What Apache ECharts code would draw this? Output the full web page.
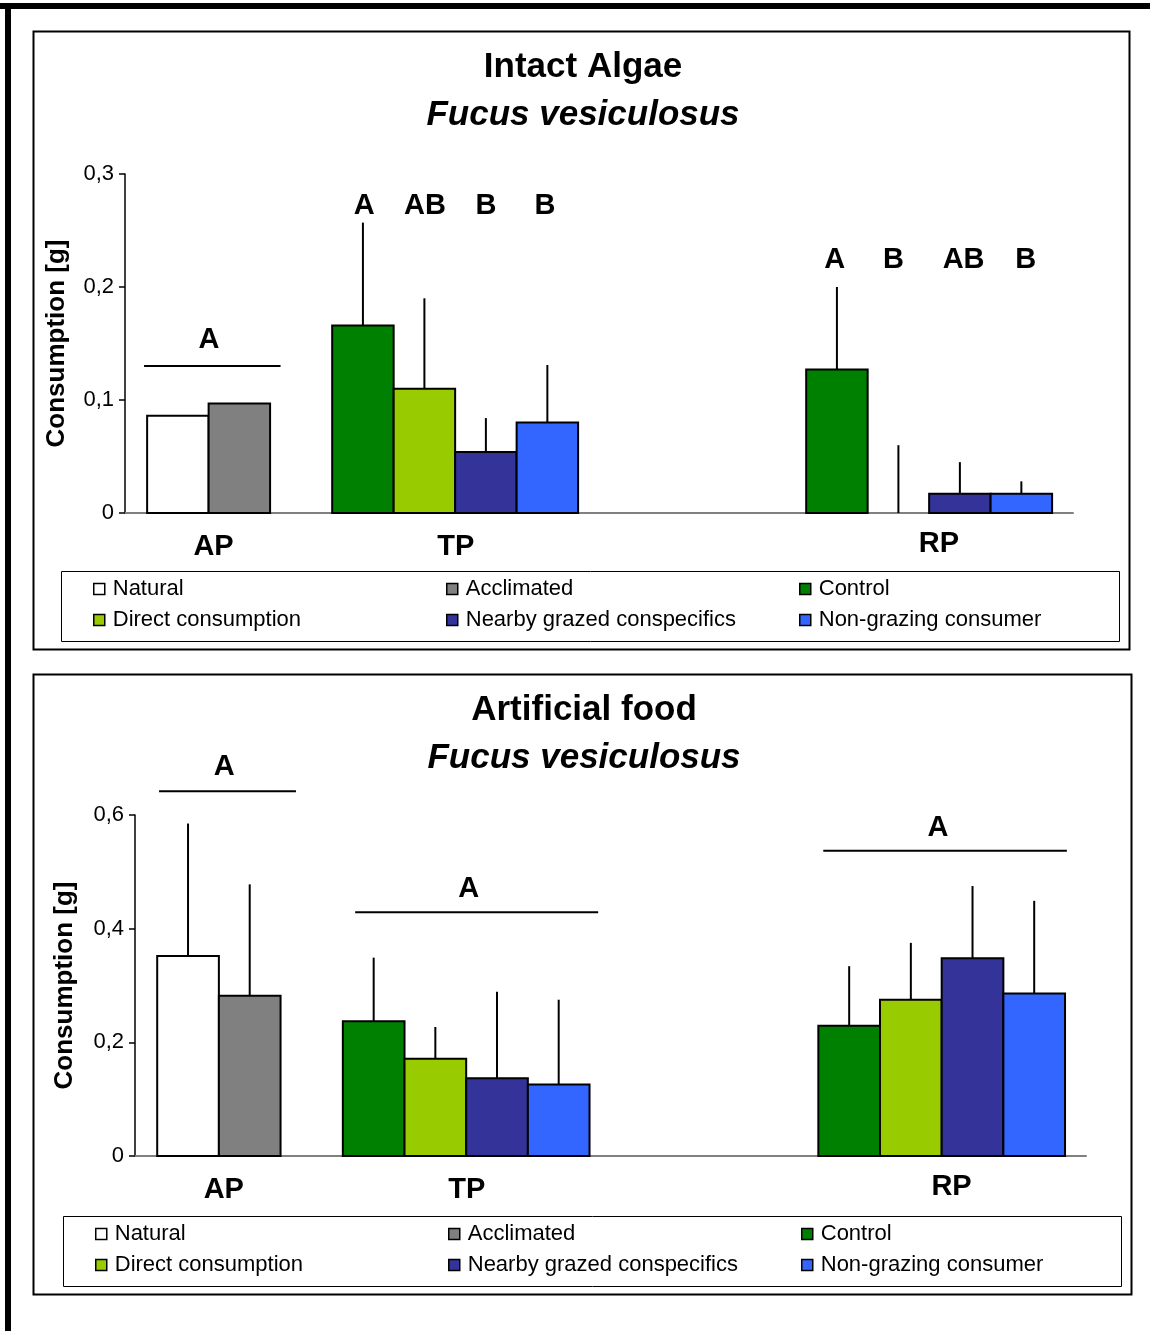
<!DOCTYPE html>
<html><head><meta charset="utf-8">
<script src="https://cdn.jsdelivr.net/npm/echarts/dist/echarts.min.js"></script>
<style>html,body{margin:0;padding:0;background:#fff}#chart{width:1150px;height:1331px}</style>
</head><body><div id="chart"></div>
<script>
// ---------------- DATA ----------------
const groups = ['AP', 'TP', 'RP'];
const treatments = ['Natural', 'Acclimated', 'Control', 'Direct consumption', 'Nearby grazed conspecifics', 'Non-grazing consumer'];

// Intact algae (means per group [AP, TP, RP]) and upper error (SD)
const intactNatural      = [0.086, null, null];
const intactAcclimated   = [0.097, null, null];
const intactControl      = [null, 0.166, 0.127];
const intactDirect       = [null, 0.110, 0.000];
const intactNearby       = [null, 0.054, 0.017];
const intactNonGrazing   = [null, 0.080, 0.017];
const intactNaturalErr    = [0, null, null];
const intactAcclimatedErr = [0, null, null];
const intactControlErr    = [null, 0.091, 0.073];
const intactDirectErr     = [null, 0.080, 0.060];
const intactNearbyErr     = [null, 0.030, 0.028];
const intactNonGrazingErr = [null, 0.051, 0.011];

// Artificial food
const artNatural      = [0.352, null, null];
const artAcclimated   = [0.282, null, null];
const artControl      = [null, 0.237, 0.229];
const artDirect       = [null, 0.171, 0.275];
const artNearby       = [null, 0.137, 0.348];
const artNonGrazing   = [null, 0.126, 0.286];
const artNaturalErr    = [0.233, null, null];
const artAcclimatedErr = [0.196, null, null];
const artControlErr    = [null, 0.112, 0.105];
const artDirectErr     = [null, 0.056, 0.100];
const artNearbyErr     = [null, 0.152, 0.127];
const artNonGrazingErr = [null, 0.149, 0.163];

// significance letters
const intactLetters = ['A', 'A', 'AB', 'B', 'B', 'A', 'B', 'AB', 'B'];
const artLetters = ['A', 'A', 'A'];

// y tick settings
const intactYMax = 0.3, intactYStep = 0.1;
const artYMax = 0.6, artYStep = 0.2;

// ---------------- LAYOUT (positions in bar-width units) ----------------
const layout = {
  groupStart: [0.36, 3.37, 11.08],
  xMax: 15.42,
  groupLabelX: [1.44, 5.38, 13.24],
  groupLabelDy: [34, 34, 31],
  slot: [0, 1, 0, 1, 2, 3],
  intactLetterPos: [[1.366, 0.153], [3.89, 0.272], [4.88, 0.272], [5.87, 0.272], [6.83, 0.272],
                    [11.545, 0.2236], [12.50, 0.2236], [13.64, 0.2236], [14.65, 0.2236]],
  intactBrackets: [[0.31, 2.53, 0.130]],
  artLetterPos: [[1.445, 0.684], [5.41, 0.469], [13.02, 0.578]],
  artBrackets: [[0.39, 2.61, 0.642], [3.57, 7.51, 0.429], [11.16, 15.11, 0.537]]
};
const colors = ['#FFFFFF', '#808080', '#008000', '#99CC00', '#333399', '#3366FF'];
const FONT = '"Liberation Sans", Arial, Helvetica, sans-serif';

// ---------------- BUILD ----------------
function renderBar(params, api) {
  const x = api.value(0), v = api.value(1), e = api.value(2);
  const p0 = api.coord([x, 0]), p1 = api.coord([x + 1, v]);
  const children = [];
  if (v > 0) {
    children.push({ type: 'rect', shape: { x: p0[0], y: p1[1], width: p1[0] - p0[0], height: p0[1] - p1[1] },
      style: { fill: api.visual('color'), stroke: '#000', lineWidth: 2 } });
  }
  if (e > 0) {
    const c = api.coord([x + 0.5, v]), t = api.coord([x + 0.5, v + e]);
    children.push({ type: 'line', shape: { x1: c[0], y1: c[1], x2: t[0], y2: t[1] }, style: { stroke: '#000', lineWidth: 2 } });
  }
  return { type: 'group', children };
}

function barSeries(name, means, errs, idx, panel) {
  const data = [];
  means.forEach((m, g) => { if (m !== null) data.push([layout.groupStart[g] + layout.slot[idx], m, errs[g] || 0]); });
  return { type: 'custom', name, xAxisIndex: panel, yAxisIndex: panel, itemStyle: { color: colors[idx] },
    renderItem: renderBar, data, clip: false, silent: true };
}

function textSeries(panel, texts, pos, dys) {
  return { type: 'custom', xAxisIndex: panel, yAxisIndex: panel, silent: true, clip: false,
    data: pos.map(p => [p[0], p[1]]),
    renderItem: (params, api) => {
      const c = api.coord([api.value(0), api.value(1)]);
      return { type: 'text', x: c[0], y: c[1] + (dys ? dys[params.dataIndex] : 0),
        style: { text: texts[params.dataIndex], fill: '#000', font: 'bold 29px ' + FONT, align: 'center', verticalAlign: 'middle' } };
    } };
}

function bracketSeries(panel, br) {
  return { type: 'custom', xAxisIndex: panel, yAxisIndex: panel, silent: true, clip: false,
    data: br.map(b => [b[0], b[1], b[2]]),
    renderItem: (params, api) => {
      const a = api.coord([api.value(0), api.value(2)]), b = api.coord([api.value(1), api.value(2)]);
      return { type: 'line', shape: { x1: a[0], y1: a[1], x2: b[0], y2: b[1] }, style: { stroke: '#000', lineWidth: 2 } };
    } };
}

const intactSets = [[intactNatural, intactNaturalErr], [intactAcclimated, intactAcclimatedErr], [intactControl, intactControlErr],
  [intactDirect, intactDirectErr], [intactNearby, intactNearbyErr], [intactNonGrazing, intactNonGrazingErr]];
const artSets = [[artNatural, artNaturalErr], [artAcclimated, artAcclimatedErr], [artControl, artControlErr],
  [artDirect, artDirectErr], [artNearby, artNearbyErr], [artNonGrazing, artNonGrazingErr]];

const series = [];
intactSets.forEach((s, i) => series.push(barSeries(treatments[i], s[0], s[1], i, 0)));
artSets.forEach((s, i) => series.push(barSeries(treatments[i], s[0], s[1], i, 1)));
series.push(bracketSeries(0, layout.intactBrackets));
series.push(bracketSeries(1, layout.artBrackets));
series.push(textSeries(0, intactLetters, layout.intactLetterPos));
series.push(textSeries(1, artLetters, layout.artLetterPos));
series.push(textSeries(0, groups, layout.groupLabelX.map(x => [x, 0]), layout.groupLabelDy));
series.push(textSeries(1, groups, layout.groupLabelX.map(x => [x, 0]), layout.groupLabelDy));

function fmt(v) { return v === 0 ? '0' : v.toFixed(1).replace('.', ','); }
function yAxis(grid, max, step, gap) {
  return { type: 'value', gridIndex: grid, min: 0, max, interval: step,
    name: 'Consumption [g]', nameLocation: 'middle', nameGap: gap,
    nameTextStyle: { fontFamily: FONT, fontWeight: 'bold', fontSize: 26, color: '#000' },
    axisLine: { show: true, lineStyle: { color: '#000', width: 1.5 } },
    axisTick: { show: true, length: 6, lineStyle: { color: '#000', width: 1.5 } },
    axisLabel: { formatter: fmt, fontFamily: FONT, fontSize: 22, color: '#000', margin: 11 },
    splitLine: { show: false } };
}
function xAxis(grid) {
  return { type: 'value', gridIndex: grid, min: 0, max: layout.xMax,
    axisLine: { show: true, onZero: true, lineStyle: { color: '#808080', width: 2 } },
    axisTick: { show: false }, axisLabel: { show: false }, splitLine: { show: false } };
}

const legendCols = [[93, 446, 799], [95, 448, 801]];
const legendRows = [[588, 619], [1233, 1264]];
const legends = [];
[0, 1].forEach(p => {
  treatments.forEach((t, i) => {
    legends.push({ data: [t], left: legendCols[p][i % 3], top: legendRows[p][Math.floor(i / 3)] - 10,
      icon: 'rect', itemWidth: 11, itemHeight: 11, padding: 0, selectedMode: false,
      itemStyle: { borderColor: '#000', borderWidth: 1.5 },
      textStyle: { fontFamily: FONT, fontSize: 22, color: '#000', padding: [0, 0, 0, 3] } });
  });
});

const titleStyle = { fontFamily: FONT, fontWeight: 'bold', fontSize: 35, color: '#000', lineHeight: 40 };
const subStyle = { fontFamily: FONT, fontWeight: 'bold', fontStyle: 'italic', fontSize: 35, color: '#000', lineHeight: 40 };

const option = {
  backgroundColor: '#fff',
  animation: false,
  title: [
    { text: 'Intact Algae', subtext: 'Fucus vesiculosus', left: 583, top: 47, textAlign: 'center', padding: 0, itemGap: 8, textStyle: titleStyle, subtextStyle: subStyle },
    { text: 'Artificial food', subtext: 'Fucus vesiculosus', left: 584, top: 690, textAlign: 'center', padding: 0, itemGap: 8, textStyle: titleStyle, subtextStyle: subStyle }
  ],
  grid: [
    { left: 125, top: 174, width: 948, height: 339 },
    { left: 135, top: 815, width: 951, height: 341 }
  ],
  xAxis: [xAxis(0), xAxis(1)],
  yAxis: [yAxis(0, intactYMax, intactYStep, 55), yAxis(1, artYMax, artYStep, 57)],
  legend: legends,
  graphic: [
    { type: 'rect', shape: { x: 0, y: 3, width: 1150, height: 6 }, style: { fill: '#000' } },
    { type: 'rect', shape: { x: 5, y: 3, width: 6, height: 1328 }, style: { fill: '#000' } },
    { type: 'rect', shape: { x: 33.5, y: 31.5, width: 1096, height: 618 }, style: { fill: 'none', stroke: '#000', lineWidth: 2 } },
    { type: 'rect', shape: { x: 33.5, y: 674.5, width: 1098, height: 620 }, style: { fill: 'none', stroke: '#000', lineWidth: 2 } },
    { type: 'rect', shape: { x: 61.5, y: 571.5, width: 1058, height: 70 }, style: { fill: 'none', stroke: '#000', lineWidth: 1 } },
    { type: 'rect', shape: { x: 63.5, y: 1216.5, width: 1058, height: 70 }, style: { fill: 'none', stroke: '#000', lineWidth: 1 } }
  ],
  series
};
const chart = echarts.init(document.getElementById('chart'));
chart.setOption(option);
</script>
</body></html>
